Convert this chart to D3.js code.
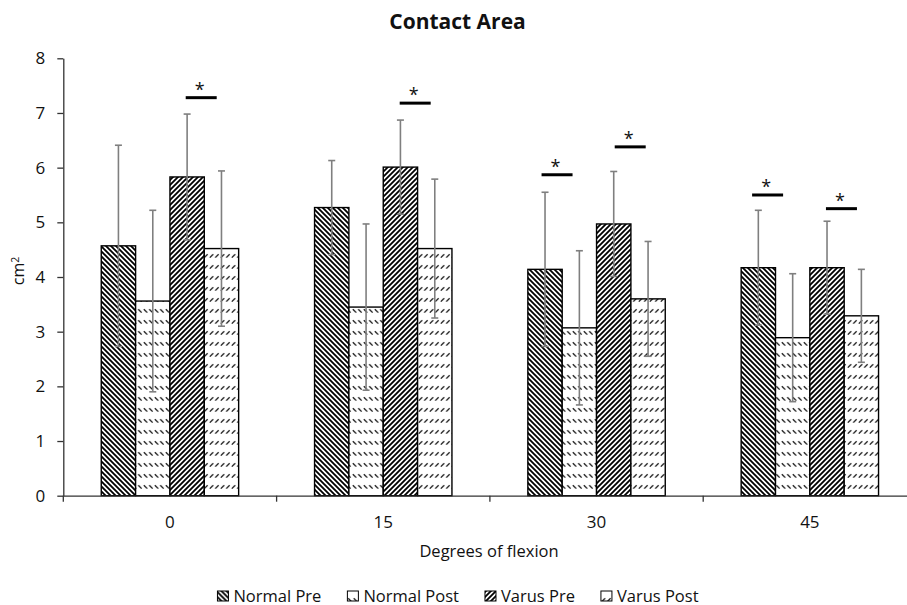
<!DOCTYPE html>
<html><head><meta charset="utf-8">
<script src="https://cdn.jsdelivr.net/npm/d3@7"></script>
<style>body{margin:0;background:#fff} text{font-family:"Open Sans",sans-serif;fill:#111}</style>
</head><body><svg id="c" width="907" height="605"></svg>
<script>
const categories = ["0","15","30","45"];
const seriesNames = ["Normal Pre","Normal Post","Varus Pre","Varus Post"];
const normalPre = [4.57,5.27,4.14,4.17];
const normalPreSD = [1.84,0.86,1.41,1.05];
const normalPost = [3.56,3.45,3.07,2.89];
const normalPostSD = [1.66,1.52,1.41,1.17];
const varusPre = [5.83,6.01,4.97,4.17];
const varusPreSD = [1.15,0.86,0.96,0.85];
const varusPost = [4.52,4.52,3.60,3.29];
const varusPostSD = [1.42,1.27,1.05,0.85];
const yTicks = [0,1,2,3,4,5,6,7,8];
const sigCategory = ["0","15","30","30","45","45"];
const sigPosition = [2.91,2.93,0.85,2.98,0.77,2.92];
const sigLevel = [7.28,7.18,5.87,6.38,5.50,5.25];

const values = [normalPre, normalPost, varusPre, varusPost];
const sds = [normalPreSD, normalPostSD, varusPreSD, varusPostSD];
const patternIds = ["pNP","pNPo","pVP","pVPo"];

const svg = d3.select("#c");
const defs = svg.append("defs");
function diag(id, dir){
  const p = defs.append("pattern").attr("id",id).attr("patternUnits","userSpaceOnUse").attr("width",5).attr("height",5);
  p.append("rect").attr("width",5).attr("height",5).attr("fill","#fff");
  const d = dir>0 ? "M-1,-1 L6,6 M-1,4 L1,6 M4,-1 L6,1" : "M-1,6 L6,-1 M-1,1 L1,-1 M4,6 L6,4";
  p.append("path").attr("d",d).attr("stroke","#000").attr("stroke-width",1.8);
}
function dashed(id, dir){
  const p = defs.append("pattern").attr("id",id).attr("patternUnits","userSpaceOnUse").attr("width",5.5).attr("height",11);
  p.append("rect").attr("width",5.5).attr("height",11).attr("fill","#fff");
  const d = dir>0 ? "M0.8,1.2 L4.2,4.6" : "M0.8,4.6 L4.2,1.2";
  p.append("path").attr("d",d).attr("stroke","#111").attr("stroke-width",1.25);
}
diag("pNP",1); dashed("pNPo",1); diag("pVP",-1); dashed("pVPo",-1);

const x0 = d3.scaleBand().domain(categories).range([63.3, 916.5]);
const x1 = d3.scaleBand().domain(d3.range(4)).range([0, x0.bandwidth()]).paddingOuter(1.105);
const y = d3.scaleLinear().domain([0,8]).range([495.7, 58.3]);
const bw = x1.bandwidth();

// bars
const data = [];
categories.forEach((c,ci)=>values.forEach((v,si)=>data.push({c, si, v:v[ci], sd:sds[si][ci]})));
svg.append("g").selectAll("rect").data(data).join("rect")
  .attr("x", d=>x0(d.c)+x1(d.si)).attr("y", d=>y(d.v))
  .attr("width", bw).attr("height", d=>y(0)-y(d.v))
  .attr("fill", d=>`url(#${patternIds[d.si]})`).attr("stroke","#000").attr("stroke-width",1.4);

// error bars
const eg = svg.append("g").attr("stroke","#7f7f7f").attr("stroke-width",1.6);
data.forEach(d=>{
  const cx = x0(d.c)+x1(d.si)+bw/2;
  const lo = y(d.v-d.sd), hi = y(d.v+d.sd);
  eg.append("line").attr("x1",cx).attr("x2",cx).attr("y1",lo).attr("y2",hi);
  eg.append("line").attr("x1",cx-3.5).attr("x2",cx+3.5).attr("y1",lo).attr("y2",lo);
  eg.append("line").attr("x1",cx-3.5).attr("x2",cx+3.5).attr("y1",hi).attr("y2",hi);
});

// y axis
const ya = svg.append("g").attr("transform",`translate(${x0.range()[0]},0)`)
  .call(d3.axisLeft(y).tickValues(yTicks).tickSize(6).tickSizeOuter(0).tickPadding(12));
ya.selectAll("text").style("font-size","17px").style("fill","#111");
ya.selectAll("line,path").attr("stroke","#333").attr("stroke-width",1.3);

// x axis
const xa = svg.append("g").attr("transform",`translate(0,${y(0)})`)
  .call(d3.axisBottom(x0).tickSize(0).tickPadding(20));
xa.select(".domain").attr("stroke","#333").attr("stroke-width",1.3);
xa.selectAll("text").style("font-size","17px").style("fill","#111");
const bounds = categories.map(c=>x0(c)).concat([x0.range()[1]]);
xa.selectAll(".bt").data(bounds).join("line").attr("class","bt")
  .attr("x1",d=>d).attr("x2",d=>d).attr("y1",0).attr("y2",6).attr("stroke","#333").attr("stroke-width",1.3);

// significance
sigCategory.forEach((c,i)=>{
  const cx = x0(c)+x1(0)+sigPosition[i]*x1.step();
  const yy = y(sigLevel[i]);
  svg.append("line").attr("x1",cx-15.5).attr("x2",cx+15.5).attr("y1",yy).attr("y2",yy)
    .attr("stroke","#000").attr("stroke-width",3);
  svg.append("text").attr("x",cx-1.5).attr("y",yy-2).attr("text-anchor","middle")
    .style("font-size","18px").text("*");
});

// titles
svg.append("text").attr("x",457.5).attr("y",29).attr("text-anchor","middle")
  .style("font-size","21px").style("font-weight","bold").text("Contact Area");
svg.append("text").attr("x",489).attr("y",557).attr("text-anchor","middle")
  .style("font-size","16.5px").text("Degrees of flexion");
const yl = svg.append("text").attr("transform","translate(24,271) rotate(-90)").attr("text-anchor","middle")
  .style("font-size","16px");
yl.append("tspan").text("cm");
yl.append("tspan").attr("dy","-0.45em").style("font-size","10.5px").text("2");

// legend
const lg = svg.append("g");
let lx = 0;
seriesNames.forEach((n,i)=>{
  const g = lg.append("g").attr("transform",`translate(${lx},0)`);
  g.append("rect").attr("x",0).attr("y",-6).attr("width",11).attr("height",10)
    .attr("fill",`url(#${patternIds[i]})`).attr("stroke","#000").attr("stroke-width",1);
  const t = g.append("text").attr("x",16).attr("y",4.5).style("font-size","16.5px").text(n);
  const w = t.node().getComputedTextLength();
  lx += 16 + w + 26;
});
const total = lx - 26;
lg.attr("transform",`translate(${458 - total/2},597)`);
</script></body></html>
